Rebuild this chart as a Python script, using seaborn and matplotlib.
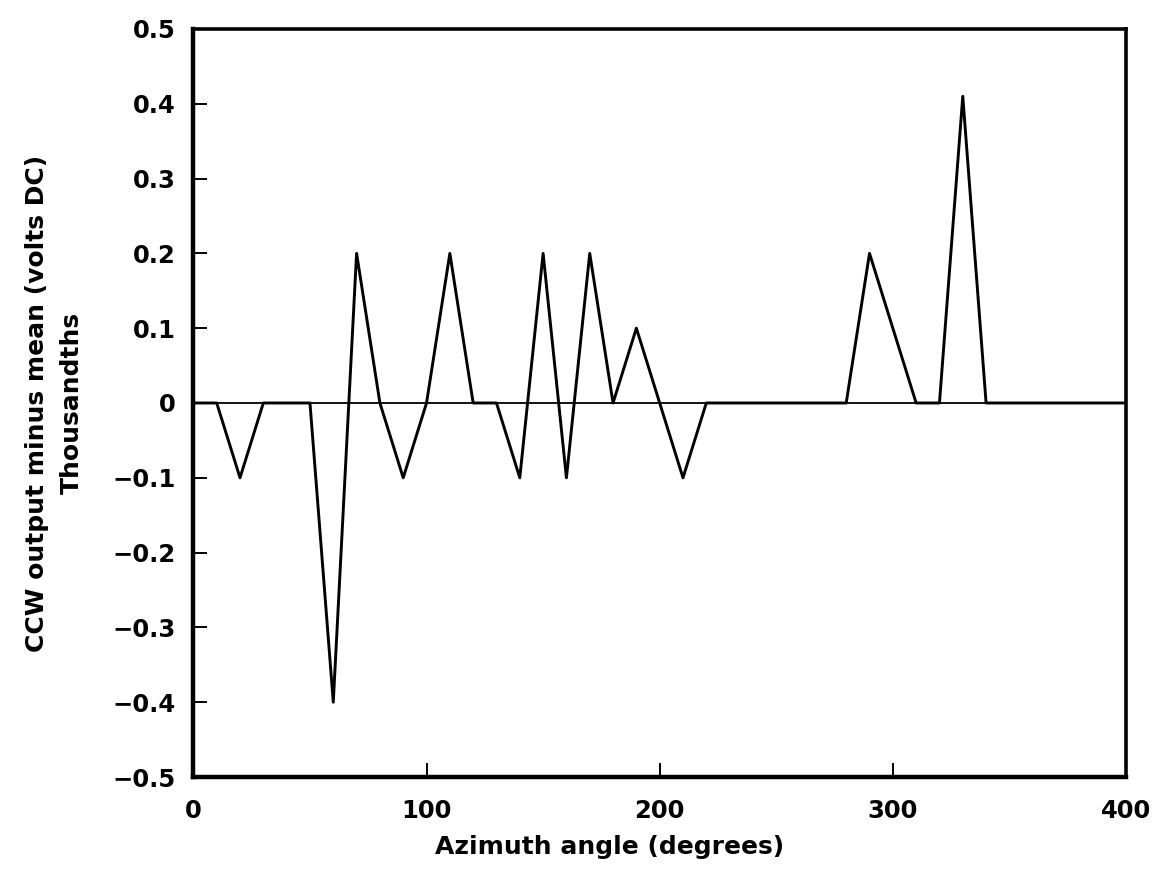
import matplotlib
matplotlib.use("Agg")
import matplotlib.pyplot as plt
import seaborn as sns
import pandas as pd

azimuth = [0, 10, 20, 30, 40, 50, 60, 70, 80, 90,
           100, 110, 120, 130, 140, 150, 160, 170, 180, 190,
           200, 210, 220, 230, 240, 250, 260, 270, 280, 290,
           300, 310, 320, 330, 340, 350, 360, 370, 380, 390, 400]
ccw_minus_mean = [0, 0, -0.1, 0, 0, 0, -0.4, 0.2, 0, -0.1,
                  0, 0.2, 0, 0, -0.1, 0.2, -0.1, 0.2, 0, 0.1,
                  0, -0.1, 0, 0, 0, 0, 0, 0, 0, 0.2,
                  0.1, 0, 0, 0.41, 0, 0, 0, 0, 0, 0, 0]
x_ticks = [0, 100, 200, 300, 400]
y_ticks = [-0.5, -0.4, -0.3, -0.2, -0.1, 0, 0.1, 0.2, 0.3, 0.4, 0.5]


def tick_label(v):
    if v == 0:
        return "0"
    return f"{v:.1f}".replace("-", "\u2212")


def main():
    sns.set_style("ticks", {"axes.edgecolor": "black", "text.color": "black",
                            "xtick.color": "black", "ytick.color": "black",
                            "axes.labelcolor": "black"})
    plt.rcParams["font.family"] = ["DejaVu Sans"]
    plt.rcParams["font.weight"] = "bold"

    df = pd.DataFrame({"azimuth": azimuth, "value": ccw_minus_mean})

    fig = plt.figure(figsize=(11.65, 8.77), dpi=100)
    ax = fig.add_axes([0.166, 0.114, 0.8005, 0.853])

    ax.axhline(0, color="black", lw=1.3, zorder=1)
    sns.lineplot(data=df, x="azimuth", y="value", color="black", lw=2.1, ax=ax, zorder=2)

    ax.set_xlim(0, 400)
    ax.set_ylim(-0.5, 0.5)
    ax.set_xticks(x_ticks)
    ax.set_xticklabels([str(t) for t in x_ticks])
    ax.set_yticks(y_ticks)
    ax.set_yticklabels([tick_label(t) for t in y_ticks])
    ax.tick_params(direction="in", length=10, width=1.4, labelsize=17.5, pad=13,
                   top=False, right=False, colors="black")
    ax.tick_params(axis="x", pad=16)

    for side in ["left", "bottom"]:
        ax.spines[side].set_linewidth(3.2)
    for side in ["top", "right"]:
        ax.spines[side].set_linewidth(2.6)

    ax.set_xlabel("Azimuth angle (degrees)", fontsize=18, fontweight="bold")
    ax.xaxis.set_label_coords(0.446, -0.077)
    ax.set_ylabel("CCW output minus mean (volts DC)\nThousandths", fontsize=18,
                  fontweight="bold", labelpad=20, multialignment="center",
                  linespacing=1.6)

    fig.savefig("out.png", dpi=100)
    plt.close(fig)


if __name__ == "__main__":
    main()
